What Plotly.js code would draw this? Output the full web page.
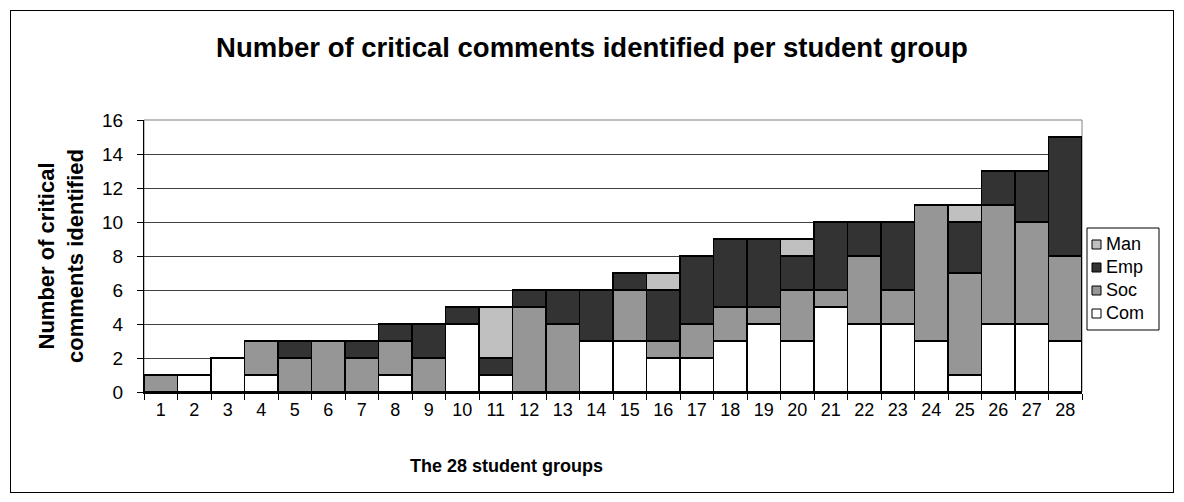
<!DOCTYPE html>
<html><head><meta charset="utf-8">
<script src="https://cdn.plot.ly/plotly-3.0.1.min.js"></script>
<style>
html,body{margin:0;padding:0;background:#fff;}
#wrap{position:relative;width:1184px;height:502px;}
#chart{width:1184px;height:502px;}
#frame{position:absolute;left:10px;top:10px;width:1162px;height:481px;border:1px solid #000;pointer-events:none;}
</style></head>
<body><div id="wrap"><div id="chart"></div><div id="frame"></div></div>
<script>
const groups = ['1','2','3','4','5','6','7','8','9','10','11','12','13','14','15','16','17','18','19','20','21','22','23','24','25','26','27','28'];
const com = [0,1,2,1,0,0,0,1,0,4,1,0,0,3,3,2,2,3,4,3,5,4,4,3,1,4,4,3];
const soc = [1,0,0,2,2,3,2,2,2,0,0,5,4,0,3,1,2,2,1,3,1,4,2,8,6,7,6,5];
const emp = [0,0,0,0,1,0,1,1,2,1,1,1,2,3,1,3,4,4,4,2,4,2,4,0,3,2,3,7];
const man = [0,0,0,0,0,0,0,0,0,0,3,0,0,0,0,1,0,0,0,1,0,0,0,0,1,0,0,0];
const seriesNames = ['Com','Soc','Emp','Man'];
const seriesColors = ['#ffffff','#969696','#333333','#c0c0c0'];
const seriesValues = [com, soc, emp, man];

const W = 1184, H = 502;
const M = {l:144, r:102, t:120, b:110};
const pw = W - M.l - M.r, ph = H - M.t - M.b;
const px = x => (x - M.l) / pw;
const py = y => (H - M.b - y) / ph;

const line = {color:'#000', width:1.5};
const data = seriesNames.map((n, i) => ({type:'bar', name:n, x:groups, y:seriesValues[i],
  marker:{color:seriesColors[i], line}, hoverinfo:'y', showlegend:false}));

const F = 'Liberation Sans, Arial, sans-serif';
const font = s => ({family:F, size:s, color:'#000'});

// manual legend (top to bottom: Man, Emp, Soc, Com)
const shapes = [
  {type:'rect', xref:'paper', yref:'paper', x0:0, x1:1, y0:0, y1:1, line:{color:'#808080', width:1}, layer:'below'},
  {type:'rect', xref:'paper', yref:'paper', x0:px(1087), x1:px(1159), y0:py(330), y1:py(228), line:{color:'#000', width:1}, fillcolor:'#fff'}
];
const annotations = [
  {xref:'paper', yref:'paper', x:px(506), y:py(466), xanchor:'center', yanchor:'middle',
   text:'<b>The 28 student groups</b>', showarrow:false, font:font(18)}
];
const rowsY = [244, 267, 290, 313];
[3,2,1,0].forEach((si, k) => {
  const cy = rowsY[k];
  shapes.push({type:'rect', xref:'paper', yref:'paper', x0:px(1092), x1:px(1101), y0:py(cy+5), y1:py(cy-4),
    fillcolor:seriesColors[si], line:{color:'#000', width:1}});
  annotations.push({xref:'paper', yref:'paper', x:px(1104), y:py(cy), xanchor:'left', yanchor:'middle',
    text:seriesNames[si], showarrow:false, font:font(18)});
});

const layout = {
  width:W, height:H, margin:M,
  paper_bgcolor:'#fff', plot_bgcolor:'#fff',
  barmode:'stack', bargap:0,
  font:font(18),
  title:{text:'<b>Number of critical comments identified per student group</b>', font:font(27.5), x:0.5, xanchor:'center', y:0.905, yanchor:'middle'},
  xaxis:{type:'category', tickson:'boundaries', ticks:'outside', ticklen:6, tickcolor:'#000',
    showline:true, linecolor:'#000', linewidth:2, tickfont:font(18)},
  yaxis:{range:[0,16], dtick:2, ticks:'outside', ticklen:6, tickcolor:'#000',
    showline:true, linecolor:'#000', linewidth:1, gridcolor:'#404040', gridwidth:1, zeroline:false,
    tickfont:font(19), ticklabelstandoff:10,
    title:{text:'<b>Number of critical<br>comments identified</b>', font:font(22), standoff:12}},
  shapes, annotations,
  showlegend:false
};
Plotly.newPlot('chart', data, layout, {staticPlot:true});
</script></body></html>
